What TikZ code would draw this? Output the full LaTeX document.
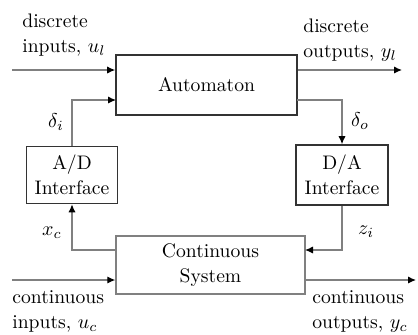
\documentclass[tikz,border=0pt]{standalone}
\usetikzlibrary{arrows.meta}
\begin{document}
\begin{tikzpicture}[x=0.5pt,y=-0.5pt,
  every node/.style={font=\fontsize{9.8}{12.5}\selectfont, inner sep=0pt},
  boxd/.style={draw=black!80, line width=0.8pt, align=center},
  boxl/.style={draw=black!50, line width=0.7pt, align=center},
  conn/.style={draw=black!50, line width=0.6pt},
  arr/.style={conn, -{Latex[length=4pt,width=3.6pt,black]}},
  lbl/.style={align=left}
]
\useasboundingbox (0,0) rectangle (418,334);
% boxes
\node[boxd, minimum width=90.5pt, minimum height=30pt] (aut) at (206.5,85) {Automaton};
\node[boxd, minimum width=45.5pt, minimum height=28.5pt] (ad) at (72,175) {A/D\\Interface};
\node[boxd, minimum width=46pt, minimum height=30pt] (da) at (342,175) {D/A\\Interface};
\node[boxl, minimum width=94.5pt, minimum height=29pt] (cs) at (210.5,265) {Continuous\\System};
% free ends
\coordinate (inA) at (12,70);
\coordinate (outA) at (402,70);
\coordinate (ain2) at (116,100);
\coordinate (aout2) at (297,100);
\coordinate (csin2) at (305,250);
\coordinate (csout2) at (116,250);
\coordinate (inC) at (12,280);
\coordinate (outC) at (416,280);
% connectors
\draw[arr] (inA) -- (inA -| aut.west);
\draw[arr] (ad.north) |- (ain2);
\draw[arr] (outA -| aut.east) -- (outA);
\draw[arr] (aout2) -| (da.north);
\draw[arr] (da.south) |- (csin2);
\draw[arr] (csout2) -| (ad.south);
\draw[arr] (inC) -- (inC -| cs.west);
\draw[arr] (outC -| cs.east) -- (outC);
% labels (base anchor = last line)
\node[lbl, anchor=base west] (l1) at (22,52) {discrete\\inputs, $u_l$};
\node[lbl, anchor=base west] (l2) at (303,57) {discrete\\outputs, $y_l$};
\node[lbl, anchor=base west] (l3) at (12,328) {continuous\\inputs, $u_c$};
\node[lbl, anchor=base west] (l4) at (312,328) {continuous\\outputs, $y_c$};
\node (di) at (56,122) {$\delta_i$};
\node (do) at (360,121) {$\delta_o$};
\node (xc) at (52,233) {$x_c$};
\node (zi) at (366,232) {$z_i$};
\end{tikzpicture}
\end{document}
